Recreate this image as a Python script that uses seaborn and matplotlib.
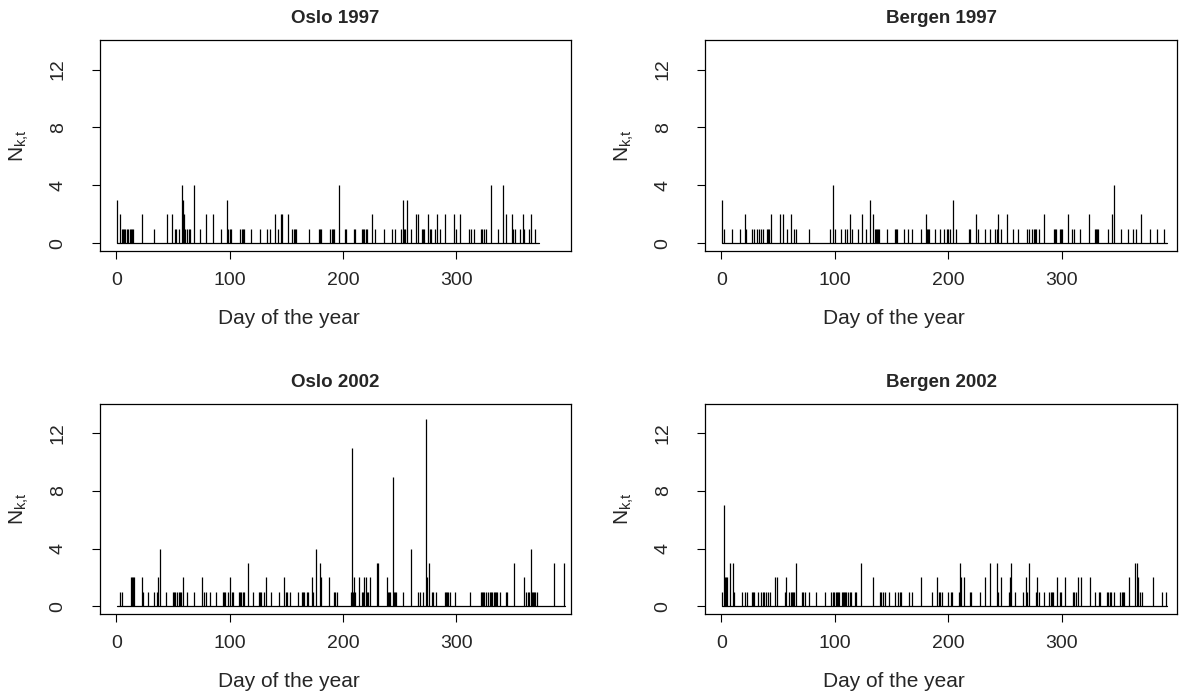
import numpy as np
import pandas as pd
import matplotlib
matplotlib.use("Agg")
import matplotlib.pyplot as plt
import seaborn as sns

# Daily event counts N_{k,t}: (day of year, count) for days with at least one event
oslo_1997 = [
    (1, 3), (3, 2), (5, 1), (6, 1), (7, 1), (8, 1), (9, 1), (10, 1), (12, 1), (13, 1),
    (14, 1), (15, 1), (23, 2), (33, 1), (45, 2), (49, 2), (52, 1), (53, 1), (55, 1), (58, 4),
    (59, 3), (60, 2), (61, 1), (62, 1), (64, 1), (65, 1), (69, 4), (74, 1), (79, 2), (85, 2),
    (92, 1), (98, 3), (99, 1), (100, 1), (101, 1), (109, 1), (111, 1), (112, 1), (113, 1), (119, 1),
    (127, 1), (133, 1), (136, 1), (140, 2), (143, 1), (145, 2), (146, 2), (152, 2), (155, 1), (157, 1),
    (158, 1), (159, 1), (170, 1), (179, 1), (180, 1), (181, 1), (189, 1), (190, 1), (191, 1), (192, 1),
    (197, 4), (202, 1), (203, 1), (210, 1), (211, 1), (217, 1), (218, 1), (219, 1), (220, 1), (221, 1),
    (226, 2), (228, 1), (236, 1), (243, 1), (246, 1), (251, 1), (253, 3), (254, 1), (255, 1), (257, 3),
    (260, 1), (265, 2), (266, 2), (270, 1), (271, 1), (272, 1), (275, 2), (277, 1), (278, 1), (281, 1),
    (283, 2), (286, 1), (290, 2), (298, 2), (300, 1), (303, 2), (311, 1), (313, 1), (316, 1), (322, 1),
    (323, 1), (325, 1), (326, 1), (331, 4), (337, 1), (341, 4), (344, 2), (349, 2), (350, 1), (352, 1),
    (356, 1), (359, 2), (360, 1), (364, 1), (366, 2), (370, 1),
]
bergen_1997 = [
    (1, 3), (2, 1), (9, 1), (16, 1), (21, 2), (22, 1), (27, 1), (29, 1), (31, 1), (33, 1),
    (35, 1), (37, 1), (40, 1), (41, 1), (42, 1), (44, 2), (52, 2), (54, 2), (58, 1), (61, 2),
    (64, 1), (66, 1), (77, 1), (96, 1), (98, 4), (100, 1), (105, 1), (109, 1), (111, 1), (113, 2),
    (115, 1), (120, 1), (124, 2), (127, 1), (131, 3), (134, 2), (135, 1), (136, 1), (137, 1), (138, 1),
    (139, 1), (146, 1), (153, 1), (154, 1), (155, 1), (161, 1), (164, 1), (168, 1), (176, 1), (180, 2),
    (181, 1), (182, 1), (183, 1), (188, 1), (193, 1), (196, 1), (199, 1), (200, 1), (201, 1), (204, 3),
    (207, 1), (218, 1), (219, 1), (224, 2), (226, 1), (232, 1), (237, 1), (241, 1), (243, 1), (244, 2),
    (246, 1), (252, 2), (257, 1), (261, 1), (269, 1), (271, 1), (274, 1), (275, 1), (276, 1), (277, 1),
    (280, 1), (284, 2), (293, 1), (294, 1), (295, 1), (298, 1), (299, 1), (300, 1), (305, 2), (309, 1),
    (311, 1), (316, 1), (324, 2), (329, 1), (330, 1), (331, 1), (332, 1), (341, 1), (344, 2), (346, 4),
    (352, 1), (358, 1), (363, 1), (365, 1), (370, 2), (378, 1), (384, 1), (390, 1),
]
oslo_2002 = [
    (3, 1), (5, 1), (13, 2), (14, 2), (15, 2), (16, 2), (23, 2), (24, 1), (28, 1), (33, 1),
    (36, 1), (37, 2), (39, 4), (44, 1), (50, 1), (51, 1), (52, 1), (54, 1), (55, 1), (56, 1),
    (57, 1), (59, 2), (62, 1), (69, 1), (76, 2), (77, 1), (79, 1), (83, 1), (88, 1), (94, 1),
    (95, 1), (96, 1), (99, 1), (100, 2), (102, 1), (103, 1), (108, 1), (109, 1), (110, 1), (112, 1),
    (113, 1), (116, 3), (121, 1), (126, 1), (127, 1), (128, 1), (130, 1), (132, 2), (137, 1), (144, 1),
    (148, 2), (150, 1), (151, 1), (153, 1), (160, 1), (164, 1), (165, 1), (166, 1), (168, 1), (169, 1),
    (173, 2), (174, 1), (176, 4), (180, 3), (181, 2), (188, 2), (192, 1), (193, 1), (195, 1), (207, 1),
    (208, 11), (209, 1), (210, 2), (211, 1), (214, 2), (217, 1), (218, 1), (219, 2), (220, 2), (221, 1),
    (222, 1), (224, 2), (230, 3), (231, 3), (239, 2), (240, 1), (241, 1), (242, 1), (244, 9), (245, 1),
    (246, 1), (247, 1), (253, 1), (260, 4), (266, 1), (268, 1), (271, 1), (273, 13), (274, 2), (276, 3),
    (279, 1), (280, 1), (282, 1), (290, 1), (291, 1), (292, 1), (293, 1), (295, 1), (299, 1), (312, 1),
    (322, 1), (323, 1), (324, 1), (325, 1), (326, 1), (328, 1), (330, 1), (331, 1), (332, 1), (333, 1),
    (334, 1), (335, 1), (336, 1), (339, 1), (344, 1), (345, 1), (351, 3), (360, 2), (362, 1), (363, 1),
    (364, 1), (366, 4), (367, 1), (368, 1), (369, 1), (370, 1), (371, 1), (386, 3), (395, 3),
]
bergen_2002 = [
    (1, 1), (2, 7), (3, 2), (4, 2), (5, 2), (8, 3), (10, 3), (11, 1), (18, 1), (21, 1),
    (23, 1), (27, 1), (28, 1), (29, 1), (32, 1), (35, 1), (37, 1), (38, 1), (39, 1), (41, 1),
    (43, 1), (47, 2), (49, 2), (56, 1), (57, 2), (60, 1), (61, 1), (62, 1), (63, 1), (64, 1),
    (66, 3), (71, 1), (72, 1), (74, 1), (77, 1), (83, 1), (91, 1), (97, 1), (98, 1), (99, 1),
    (101, 1), (102, 1), (103, 1), (104, 1), (106, 1), (107, 1), (108, 1), (109, 1), (110, 1), (112, 1),
    (113, 1), (114, 1), (118, 1), (119, 1), (123, 3), (134, 2), (140, 1), (141, 1), (142, 1), (144, 1),
    (148, 1), (153, 1), (156, 1), (157, 1), (158, 1), (165, 1), (168, 1), (176, 2), (186, 1), (190, 2),
    (192, 1), (193, 1), (194, 1), (200, 1), (202, 1), (203, 1), (209, 1), (210, 3), (211, 2), (214, 2),
    (219, 1), (220, 1), (228, 1), (232, 2), (237, 3), (243, 3), (244, 1), (246, 2), (253, 1), (254, 2),
    (255, 3), (259, 1), (266, 1), (268, 2), (269, 1), (271, 3), (277, 1), (278, 2), (280, 1), (284, 1),
    (289, 1), (290, 1), (291, 1), (292, 1), (296, 2), (298, 1), (299, 1), (303, 2), (310, 1), (311, 1),
    (312, 1), (314, 2), (317, 2), (325, 2), (329, 1), (333, 1), (334, 1), (340, 1), (341, 1), (342, 1),
    (343, 1), (346, 1), (351, 1), (353, 1), (354, 1), (355, 1), (359, 2), (364, 3), (366, 3), (367, 2),
    (369, 1), (371, 1), (380, 2), (388, 1), (392, 1),
]

panel_series = [oslo_1997, bergen_1997, oslo_2002, bergen_2002]
panel_titles = ["Oslo 1997", "Bergen 1997", "Oslo 2002", "Bergen 2002"]
panel_last_day = [373, 393, 396, 393]
x_ticks = [0, 100, 200, 300]
y_ticks = [0, 4, 8, 12]
x_label = "Day of the year"
y_label = r"$\mathregular{N_{k{,}t}}$"

sns.set_style("ticks")
plt.rcParams["font.family"] = ["Liberation Sans", "DejaVu Sans"]
plt.rcParams["mathtext.fontset"] = "custom"
plt.rcParams["mathtext.rm"] = "Liberation Sans"
plt.rcParams["mathtext.it"] = "Liberation Sans:italic"

W, H = 1189, 698
fig = plt.figure(figsize=(W / 100, H / 100), dpi=100)

# axes boxes in pixels: left, top, right, bottom
boxes = [(100, 40, 571, 251), (705, 40, 1177, 251),
         (100, 404, 571, 614), (705, 404, 1177, 614)]

for series, title, last_day, (l, t, r, b) in zip(panel_series, panel_titles,
                                                   panel_last_day, boxes):
    ax = fig.add_axes([l / W, 1 - b / H, (r - l) / W, (b - t) / H])
    days = np.arange(1, last_day + 1)
    daily = pd.DataFrame({"day": days, "count": 0})
    ev = pd.DataFrame(series, columns=["day", "count"]).set_index("day")["count"]
    daily["count"] = daily["day"].map(ev).fillna(0).astype(int)

    # zero baseline over the observed days, then one spike per day
    sns.lineplot(data=daily, x="day", y=daily["count"] * 0, ax=ax,
                 color="black", linewidth=0.9, estimator=None)
    nz = daily[daily["count"] > 0]
    ax.vlines(nz["day"], 0, nz["count"], color="black", linewidth=0.9)

    ax.set_xlim(-14.4, 401.4)
    ax.set_ylim(-0.54, 14.04)
    ax.set_xticks(x_ticks)
    ax.set_yticks(y_ticks)
    ax.set_yticklabels([str(v) for v in y_ticks], rotation=90, va="center")
    ax.tick_params(axis="both", direction="out", length=6, width=0.8,
                   labelsize=14, color="black")
    ax.tick_params(axis="x", pad=9)
    ax.tick_params(axis="y", pad=18)
    for s in ax.spines.values():
        s.set_visible(True)
        s.set_color("black")
        s.set_linewidth(0.9)
    ax.set_title(title, fontsize=13.5, fontweight="bold", pad=12)
    ax.set_xlabel(x_label, fontsize=15)
    ax.set_ylabel(y_label, fontsize=15)
    ax.xaxis.set_label_coords(0.40, -0.275)
    ax.yaxis.set_label_coords(-0.146, 0.5)

fig.savefig("out.png", dpi=100)
